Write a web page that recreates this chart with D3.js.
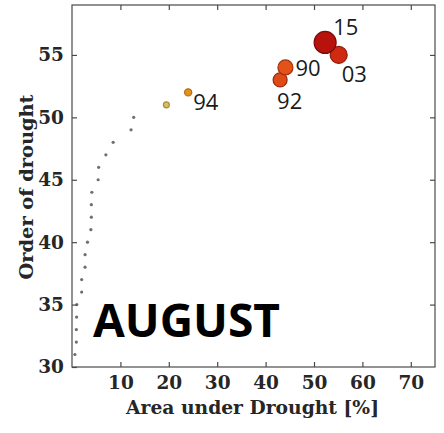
<!DOCTYPE html>
<html>
<head>
<meta charset="utf-8">
<script src="https://cdn.jsdelivr.net/npm/d3@7"></script>
<style>
  html, body { margin: 0; padding: 0; background: #fff; }
  svg { display: block; }
</style>
</head>
<body>
<svg id="chart" width="444" height="433"></svg>
<script>
// Drought events of August: share of area under drought vs. rank order
const bgArea  = [0.6, 0.9, 0.9, 0.95, 1.0, 2.0, 2.0, 2.7, 2.7, 3.2, 3.9, 4.0, 4.0, 4.1, 5.4, 5.5, 7.0, 8.5, 12.2, 12.75];
const bgOrder = [31, 32, 33, 34, 35, 36, 37, 38, 39, 40, 41, 42, 43, 44, 45, 46, 47, 48, 49, 50];

const topYears = ["", "94", "92", "90", "03", "15"];
const topArea  = [19.5, 24.0, 43.0, 44.1, 55.1, 52.3];
const topOrder = [51, 52, 53, 54, 55, 56];

const xTicks = [10, 20, 30, 40, 50, 60, 70];
const yTicks = [30, 35, 40, 45, 50, 55];

const W = 444, H = 433;
const margin = { left: 72, top: 5, right: 9, bottom: 66 };
const svg = d3.select("#chart");

const x = d3.scaleLinear().domain([0, 75]).range([margin.left, W - margin.right]);
const y = d3.scaleLinear().domain([30, 59]).range([H - margin.bottom, margin.top]);

// marker look grows with the rank of the event
const fillOf = d3.scaleOrdinal().domain(topOrder)
  .range(["#d8bd62", "#e3921e", "#df4a16", "#e45218", "#cf2b12", "#b8120c"]);
const edgeOf = d3.scaleOrdinal().domain(topOrder)
  .range(["#a8903a", "#b56d12", "#9c2a0c", "#a1300c", "#8e1c0a", "#7a0c08"]);
const rOf = d3.scaleOrdinal().domain(topOrder).range([3, 3.6, 7, 7.5, 8.5, 11]);

const serif = "'DejaVu Serif', serif";
const sans = "'Open Sans', 'Noto Sans', sans-serif";
const axisColor = "#4a4a4a";
const labelColor = "#262626";

// frame
const plot = svg.append("g");
plot.append("rect")
  .attr("x", x(0)).attr("y", y(59))
  .attr("width", x(75) - x(0)).attr("height", y(30) - y(59))
  .attr("fill", "none").attr("stroke", axisColor).attr("stroke-width", 1.2);

// axes with inward ticks on all four sides
const tickLen = 5;
const axBottom = svg.append("g").attr("transform", `translate(0,${y(30)})`)
  .call(d3.axisBottom(x).tickValues(xTicks).tickSize(-tickLen).tickPadding(14));
const axTop = svg.append("g").attr("transform", `translate(0,${y(59)})`)
  .call(d3.axisTop(x).tickValues(xTicks).tickSize(-tickLen).tickFormat(""));
const axLeft = svg.append("g").attr("transform", `translate(${x(0)},0)`)
  .call(d3.axisLeft(y).tickValues(yTicks).tickSize(-tickLen).tickPadding(8));
const axRight = svg.append("g").attr("transform", `translate(${x(75)},0)`)
  .call(d3.axisRight(y).tickValues(yTicks.filter(v => v > 30)).tickSize(-tickLen).tickFormat(""));

[axBottom, axTop, axLeft, axRight].forEach(g => {
  g.select(".domain").remove();
  g.selectAll(".tick line").attr("stroke", axisColor).attr("stroke-width", 1.2);
  g.selectAll(".tick text")
    .attr("font-family", serif).attr("font-weight", "bold")
    .attr("font-size", 18.5).attr("fill", labelColor);
});
axBottom.selectAll(".tick text").attr("dy", "0.45em");

// axis titles
svg.append("text")
  .attr("x", (x(0) + x(75)) / 2 - 1).attr("y", 414)
  .attr("text-anchor", "middle")
  .attr("font-family", serif).attr("font-weight", "bold").attr("font-size", 19)
  .attr("textLength", 253).attr("lengthAdjust", "spacingAndGlyphs")
  .attr("fill", labelColor)
  .text("Area under Drought [%]");

svg.append("text")
  .attr("transform", "translate(33,187) rotate(-90)")
  .attr("text-anchor", "middle")
  .attr("font-family", serif).attr("font-weight", "bold").attr("font-size", 19)
  .attr("textLength", 185).attr("lengthAdjust", "spacingAndGlyphs")
  .attr("fill", labelColor)
  .text("Order of drought");

// lesser events
plot.selectAll("circle.bg")
  .data(d3.range(bgArea.length))
  .join("circle").attr("class", "bg")
  .attr("cx", i => x(bgArea[i])).attr("cy", i => y(bgOrder[i]))
  .attr("r", 1.6).attr("fill", "#6e6e6e");

// top events, drawn smallest first
const idx = d3.range(topArea.length);
plot.selectAll("circle.top")
  .data(idx)
  .join("circle").attr("class", "top")
  .attr("cx", i => x(topArea[i])).attr("cy", i => y(topOrder[i]))
  .attr("r", i => rOf(topOrder[i]))
  .attr("fill", i => fillOf(topOrder[i]))
  .attr("stroke", i => edgeOf(topOrder[i]))
  .attr("stroke-width", 1.2);

// year labels
const labelOffset = {
  "94": [5, 18], "92": [-3, 29], "90": [10, 9], "03": [3, 27], "15": [8, -7]
};
plot.selectAll("text.yr")
  .data(idx.filter(i => topYears[i] !== ""))
  .join("text").attr("class", "yr")
  .attr("x", i => x(topArea[i]) + labelOffset[topYears[i]][0])
  .attr("y", i => y(topOrder[i]) + labelOffset[topYears[i]][1])
  .attr("font-family", sans).attr("font-size", 22).attr("fill", "#1a1a1a")
  .text(i => topYears[i]);

// month caption
svg.append("text")
  .attr("x", 93).attr("y", 337)
  .attr("font-family", sans).attr("font-weight", "bold").attr("font-size", 47)
  .attr("textLength", 187).attr("lengthAdjust", "spacingAndGlyphs")
  .attr("fill", "#000")
  .text("AUGUST");
</script>
</body>
</html>
